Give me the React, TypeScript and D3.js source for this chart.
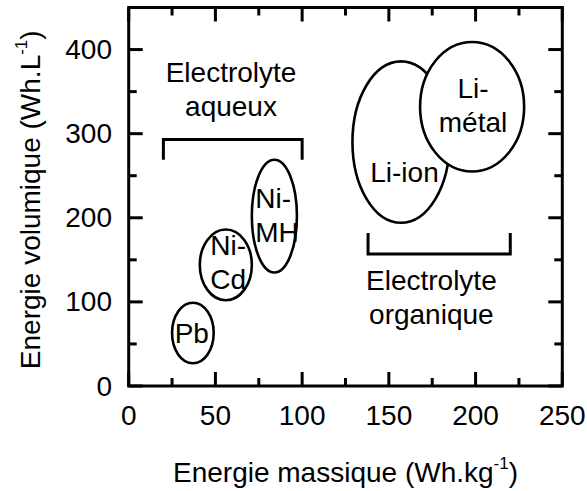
import React from "react";
import * as d3 from "d3";

// Battery technologies: centre and half-extent (Wh/kg, Wh/L)
const techNames = ["Pb", "Ni-Cd", "Ni-MH", "Li-ion", "Li-métal"];
const massCenter = [37, 56, 84, 157, 198];
const volCenter = [63, 144, 202, 290, 332];
const massHalf = [12, 15, 13, 28, 30];
const volHalf = [36, 42, 67, 96, 77];

// Labels written inside each zone
const techLabelLines = [["Pb"], ["Ni-", "Cd"], ["Ni-", "MH"], ["Li-ion"], ["Li-", "métal"]];
const techLabelX = [26.5, 47, 73, 159, 198.5];
const techLabelY = [51, 156, 212, 243, 342.5];
const techLabelAnchor = ["start", "start", "start", "middle", "middle"];

// Electrolyte groups: bracket span and label
const groupLines = [["Electrolyte", "aqueux"], ["Electrolyte", "organique"]];
const groupX0 = [20, 138];
const groupX1 = [100, 220];
const groupBar = [293, 157];
const groupLeg = [269, 182];
const groupLabelX = [59, 174.5];
const groupLabelY = [361, 114];

const xTicks = [0, 50, 100, 150, 200, 250];
const yTicks = [0, 100, 200, 300, 400];
const xMinor = [25, 75, 125, 175, 225];
const yMinor = [50, 150, 250, 350];

const W = 587;
const H = 491;
const M = { left: 128.7, right: 562.3, top: 7.5, bottom: 386 };
const FONT = "'Liberation Sans', Arial, sans-serif";
const FS = 28;

export default function App() {
  const x = d3.scaleLinear().domain([0, 250]).range([M.left, M.right]);
  const y = d3.scaleLinear().domain([0, 450]).range([M.bottom, M.top]);
  const lh = 34;

  const major = 14;
  const minor = 8;

  return (
    <svg width={W} height={H} style={{ position: "absolute", left: 0, top: 0, background: "#fff" }}
      fontFamily={FONT}>
      <rect width={W} height={H} fill="#fff" />

      {/* zones */}
      {techNames.map((n, i) => (
        <ellipse key={n} cx={x(massCenter[i])} cy={y(volCenter[i])}
          rx={x(massHalf[i]) - x(0)} ry={y(0) - y(volHalf[i])}
          fill="#fff" stroke="#000" strokeWidth={2.6} />
      ))}
      {techNames.map((n, i) => (
        <text key={n + "t"} x={x(techLabelX[i])} y={y(techLabelY[i])} fontSize={FS}
          textAnchor={techLabelAnchor[i]} fill="#000">
          {techLabelLines[i].map((s, j) => (
            <tspan key={j} x={x(techLabelX[i])} dy={j === 0 ? 0 : lh}>{s}</tspan>
          ))}
        </text>
      ))}

      {/* electrolyte brackets */}
      {groupLines.map((g, i) => (
        <g key={i}>
          <path d={`M${x(groupX0[i])},${y(groupLeg[i])}V${y(groupBar[i])}H${x(groupX1[i])}V${y(groupLeg[i])}`}
            fill="none" stroke="#000" strokeWidth={3} />
          <text x={x(groupLabelX[i])} y={y(groupLabelY[i])} fontSize={FS} textAnchor="middle">
            {g.map((s, j) => (
              <tspan key={j} x={x(groupLabelX[i])} dy={j === 0 ? 0 : lh}>{s}</tspan>
            ))}
          </text>
        </g>
      ))}

      {/* ticks on all four sides, pointing inward */}
      <g stroke="#000" strokeWidth={3}>
        {xTicks.map((t) => (
          <g key={"xt" + t}>
            <line x1={x(t)} x2={x(t)} y1={M.bottom} y2={M.bottom - major} />
            <line x1={x(t)} x2={x(t)} y1={M.top} y2={M.top + major} />
          </g>
        ))}
        {xMinor.map((t) => (
          <g key={"xm" + t}>
            <line x1={x(t)} x2={x(t)} y1={M.bottom} y2={M.bottom - minor} />
            <line x1={x(t)} x2={x(t)} y1={M.top} y2={M.top + minor} />
          </g>
        ))}
        {yTicks.map((t) => (
          <g key={"yt" + t}>
            <line x1={M.left} x2={M.left + major} y1={y(t)} y2={y(t)} />
            <line x1={M.right} x2={M.right - major} y1={y(t)} y2={y(t)} />
          </g>
        ))}
        {yMinor.map((t) => (
          <g key={"ym" + t}>
            <line x1={M.left} x2={M.left + minor} y1={y(t)} y2={y(t)} />
            <line x1={M.right} x2={M.right - minor} y1={y(t)} y2={y(t)} />
          </g>
        ))}
      </g>

      {/* frame */}
      <rect x={M.left} y={M.top} width={M.right - M.left} height={M.bottom - M.top}
        fill="none" stroke="#000" strokeWidth={3} strokeLinejoin="miter" />

      {/* tick labels */}
      {xTicks.map((t) => (
        <text key={"xl" + t} x={x(t)} y={425} fontSize={FS} textAnchor="middle">{t}</text>
      ))}
      {yTicks.map((t) => (
        <text key={"yl" + t} x={112} y={y(t) + 9.5} fontSize={FS} textAnchor="end">{t}</text>
      ))}

      {/* axis titles */}
      <text x={(M.left + M.right) / 2} y={481.5} fontSize={FS} textAnchor="middle">
        Energie massique (Wh.kg<tspan fontSize={17} dy={-13}>-1</tspan><tspan dy={13}>)</tspan>
      </text>
      <text transform={`translate(40,${(M.top + M.bottom) / 2 + 3}) rotate(-90)`} fontSize={FS}
        textAnchor="middle">
        Energie volumique (Wh.L<tspan fontSize={17} dy={-13}>-1</tspan><tspan dy={13}>)</tspan>
      </text>
    </svg>
  );
}
